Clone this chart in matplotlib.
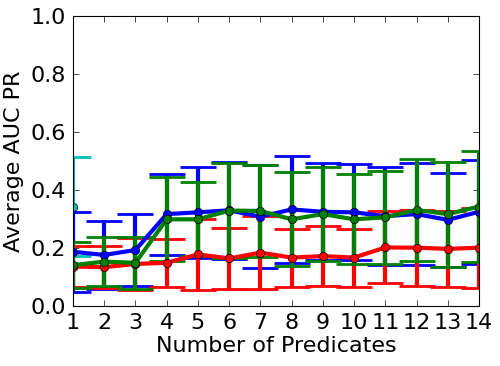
import matplotlib
matplotlib.use('Agg')
import matplotlib.pyplot as plt

# number of predicates on the x axis
n_pred = list(range(1, 15))

# mean AUC PR and error (half-width) per series
blue_mean = [0.187, 0.176, 0.193, 0.317, 0.323, 0.330, 0.308, 0.333, 0.325, 0.323, 0.310, 0.317, 0.297, 0.325]
blue_err = [0.138, 0.117, 0.123, 0.140, 0.158, 0.168, 0.178, 0.185, 0.168, 0.166, 0.170, 0.177, 0.162, 0.180]

green_mean = [0.141, 0.153, 0.149, 0.299, 0.299, 0.329, 0.328, 0.299, 0.317, 0.299, 0.306, 0.331, 0.317, 0.343]
green_err = [0.078, 0.085, 0.090, 0.145, 0.127, 0.165, 0.160, 0.162, 0.163, 0.155, 0.160, 0.176, 0.181, 0.190]

red_mean = [0.136, 0.134, 0.145, 0.149, 0.178, 0.164, 0.184, 0.167, 0.172, 0.167, 0.202, 0.201, 0.197, 0.201]
red_err = [0.070, 0.073, 0.090, 0.083, 0.123, 0.105, 0.125, 0.100, 0.103, 0.100, 0.124, 0.131, 0.130, 0.138]

cyan_x = [1]
cyan_mean = [0.343]
cyan_err = [0.170]

plt.rc('font', family='DejaVu Sans', size=16)

fig = plt.figure(figsize=(5, 3.66), dpi=100, facecolor='white')
ax = fig.add_axes([0.146, 0.164, 0.812, 0.792])

style = dict(marker='o', markersize=6, markeredgecolor='k',
             linewidth=3, elinewidth=3, capsize=13, capthick=2)


def draw(x, y, err, color):
    line, caps, bars = ax.errorbar(x, y, yerr=err, color=color, **style)
    # the marker edge width would otherwise also thin the caps
    line.set_markeredgewidth(0.5)


draw(cyan_x, cyan_mean, cyan_err, (0, 0.75, 0.75))
draw(n_pred, blue_mean, blue_err, 'b')
draw(n_pred, red_mean, red_err, 'r')
draw(n_pred, green_mean, green_err, 'g')

ax.set_xlim(1, 14)
ax.set_ylim(0, 1)
ax.set_xticks(n_pred)
ax.set_yticks([0.0, 0.2, 0.4, 0.6, 0.8, 1.0])
ax.set_yticklabels(['0.0', '0.2', '0.4', '0.6', '0.8', '1.0'])
ax.tick_params(direction='in', top=True, right=True, length=4, width=0.5, pad=5)
for s in ax.spines.values():
    s.set_linewidth(0.8)
ax.set_xlabel('Number of Predicates', labelpad=2)
ax.set_ylabel('Average AUC PR', labelpad=5)

fig.savefig('out.png', dpi=100, facecolor='white')
